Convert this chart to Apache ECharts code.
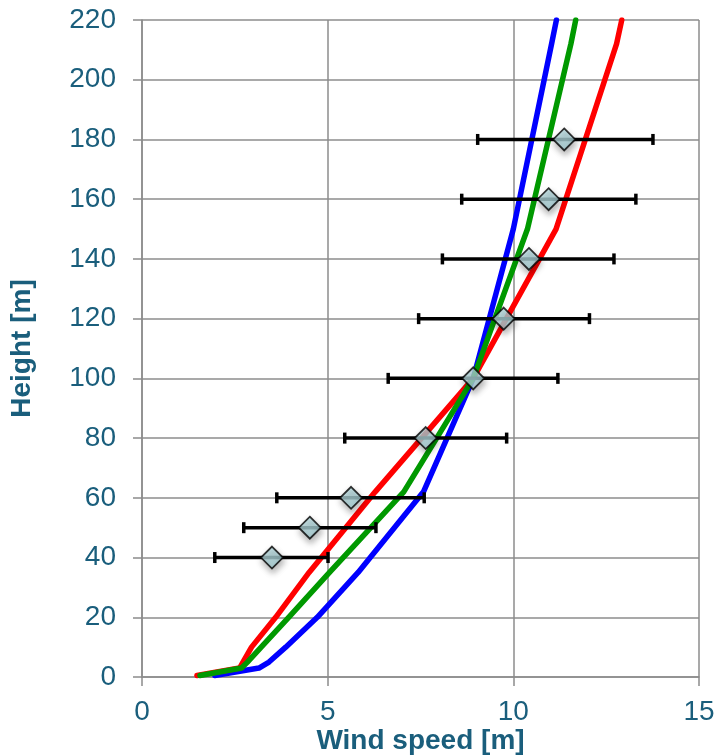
<!DOCTYPE html>
<html>
<head>
<meta charset="utf-8">
<script src="https://cdn.jsdelivr.net/npm/echarts@6/dist/echarts.min.js"></script>
<style>
  html, body { margin: 0; padding: 0; background: #ffffff; }
  #chart { width: 719px; height: 756px; }
</style>
</head>
<body>
<div id="chart"></div>
<script>
// Model profile heights [m] shared by the three curves
const profileHeights = [0.5, 3, 5, 10, 20, 35, 62, 100, 150, 212, 220];
// Wind speed of each model profile at those heights
const blueProfile  = [1.96, 3.15, 3.42, 3.87, 4.72, 5.82, 7.58, 8.92, 10.00, 11.03, 11.16];
const greenProfile = [1.56, 2.68, 2.84, 3.21, 3.95, 5.05, 7.05, 8.92, 10.38, 11.55, 11.68];
const redProfile   = [1.48, 2.63, 2.72, 2.95, 3.60, 4.50, 6.28, 8.92, 11.15, 12.78, 12.92];

// Measured mean wind speed with its spread
const obsHeights = [40, 50, 60, 80, 100, 120, 140, 160, 180];
const obsSpeed   = [3.50, 4.52, 5.63, 7.64, 8.92, 9.74, 10.42, 10.95, 11.37];
const obsLow     = [1.96, 2.74, 3.63, 5.46, 6.63, 7.45, 8.09, 8.61, 9.04];
const obsHigh    = [5.01, 6.30, 7.60, 9.82, 11.20, 12.05, 12.71, 13.30, 13.76];

// Axis ticks
const xTicks = [0, 5, 10, 15];
const yTicks = [0, 20, 40, 60, 80, 100, 120, 140, 160, 180, 200, 220];

const FONT = '"Liberation Sans", Arial, sans-serif';
const TEXT_COLOR = '#1A5E7C';
const GRID_COLOR = '#8C8C8C';

function pairs(xs, ys) { return xs.map((x, i) => [x, ys[i]]); }

function profileSeries(name, color, speeds) {
  return {
    name: name,
    type: 'line',
    data: pairs(speeds, profileHeights),
    showSymbol: false,
    symbol: 'none',
    lineStyle: { color: color, width: 5.5, join: 'round', cap: 'round' },
    silent: true,
    animation: false
  };
}

const chart = echarts.init(document.getElementById('chart'), null, { renderer: 'canvas' });

chart.setOption({
  backgroundColor: '#ffffff',
  animation: false,
  grid: {
    left: 142, right: 20, top: 20, bottom: 79,
    containLabel: false,
    outerBoundsMode: 'none'
  },
  xAxis: {
    type: 'value',
    min: xTicks[0],
    max: xTicks[xTicks.length - 1],
    interval: xTicks[1] - xTicks[0],
    name: 'Wind speed [m]',
    nameLocation: 'middle',
    nameGap: 50,
    nameMoveOverlap: false,
    nameTextStyle: { fontFamily: FONT, fontSize: 28, fontWeight: 'bold', color: TEXT_COLOR },
    axisLine: { show: true, onZero: false, lineStyle: { color: GRID_COLOR, width: 1.5 } },
    axisTick: { show: true, inside: false, length: 9, lineStyle: { color: GRID_COLOR, width: 1.5 } },
    axisLabel: { fontFamily: FONT, fontSize: 28, color: TEXT_COLOR, margin: 21 },
    splitLine: { show: true, lineStyle: { color: GRID_COLOR, width: 1.5 } }
  },
  yAxis: {
    type: 'value',
    min: yTicks[0],
    max: yTicks[yTicks.length - 1],
    interval: yTicks[1] - yTicks[0],
    name: 'Height [m]',
    nameLocation: 'middle',
    nameGap: 106,
    nameRotate: 90,
    nameMoveOverlap: false,
    nameTextStyle: { fontFamily: FONT, fontSize: 28, fontWeight: 'bold', color: TEXT_COLOR },
    axisLine: { show: true, onZero: false, lineStyle: { color: GRID_COLOR, width: 1.5 } },
    axisTick: { show: true, inside: false, length: 9, lineStyle: { color: GRID_COLOR, width: 1.5 } },
    axisLabel: { fontFamily: FONT, fontSize: 28, color: TEXT_COLOR, margin: 26 },
    splitLine: { show: true, lineStyle: { color: GRID_COLOR, width: 1.5 } }
  },
  series: [
    profileSeries('blue', '#0000FF', blueProfile),
    profileSeries('red', '#FF0000', redProfile),
    profileSeries('green', '#009900', greenProfile),
    {
      name: 'spread',
      type: 'custom',
      data: obsHeights.map((h, i) => [obsLow[i], obsHigh[i], h]),
      encode: { x: [0, 1], y: 2 },
      renderItem: function (params, api) {
        const h = api.value(2);
        const a = api.coord([api.value(0), h]);
        const b = api.coord([api.value(1), h]);
        const half = 5.5;
        const style = { stroke: '#000000', lineWidth: 3.5 };
        return {
          type: 'group',
          children: [
            { type: 'line', shape: { x1: a[0], y1: a[1], x2: b[0], y2: b[1] }, style: style },
            { type: 'line', shape: { x1: a[0], y1: a[1] - half, x2: a[0], y2: a[1] + half }, style: style },
            { type: 'line', shape: { x1: b[0], y1: b[1] - half, x2: b[0], y2: b[1] + half }, style: style }
          ]
        };
      },
      z: 5,
      silent: true,
      animation: false
    },
    {
      name: 'measured',
      type: 'scatter',
      data: pairs(obsSpeed, obsHeights),
      symbol: 'diamond',
      symbolSize: [22, 22],
      itemStyle: {
        color: {
          type: 'linear', x: 0, y: 0, x2: 1, y2: 1,
          colorStops: [
            { offset: 0, color: '#C2E2E6' },
            { offset: 1, color: '#9CC9CF' }
          ]
        },
        borderColor: '#000000',
        borderWidth: 1.8,
        shadowBlur: 6,
        shadowOffsetX: 1,
        shadowOffsetY: 4,
        shadowColor: 'rgba(0,0,0,0.35)'
      },
      z: 6,
      silent: true,
      animation: false
    }
  ]
});
</script>
</body>
</html>
